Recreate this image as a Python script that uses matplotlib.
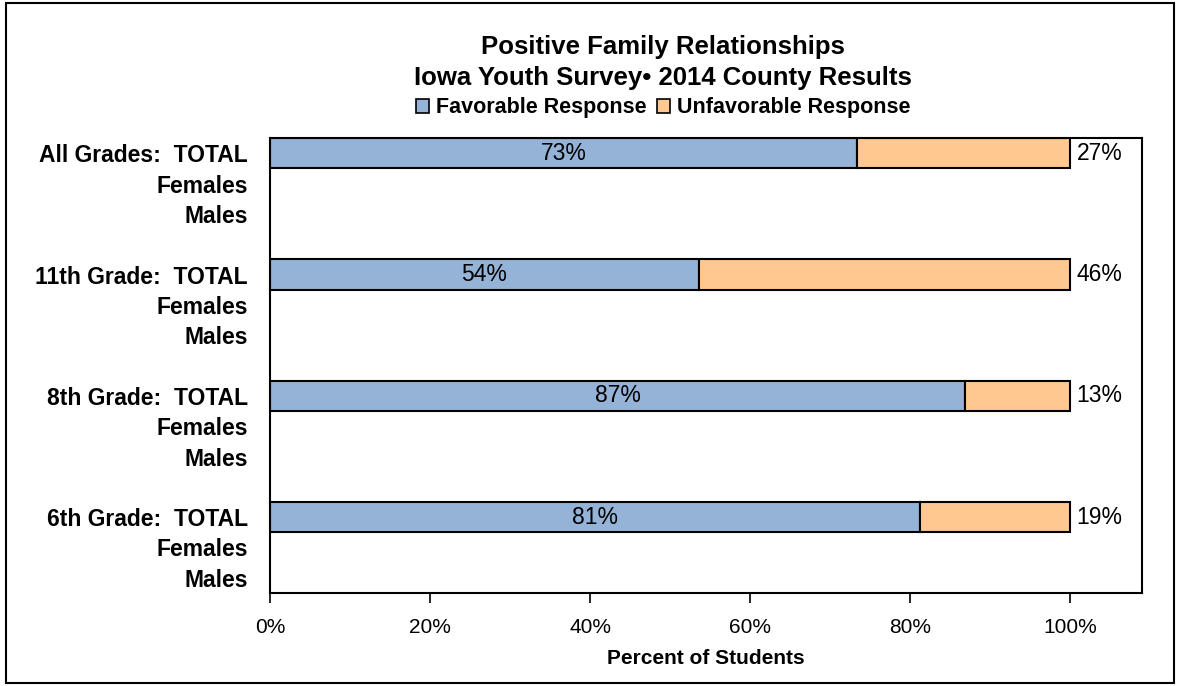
import numpy as np
import matplotlib
matplotlib.use('Agg')
import matplotlib.pyplot as plt
from matplotlib.patches import Patch, Rectangle

# 그래프 데이터
group_labels = ['All Grades:  TOTAL', '11th Grade:  TOTAL', '8th Grade:  TOTAL', '6th Grade:  TOTAL']
sub_labels = ['Females', 'Males']
favorable = [73.4, 53.6, 86.9, 81.2]
unfavorable = [26.6, 46.4, 13.1, 18.8]
fav_text = ['73%', '54%', '87%', '81%']
unfav_text = ['27%', '46%', '13%', '19%']
x_ticks = [0, 20, 40, 60, 80, 100]

COL_FAV = '#95B3D7'
COL_UNFAV = '#FFC891'


def main():
    plt.rcParams['font.family'] = ['Liberation Sans', 'DejaVu Sans']

    # y 위치: 그룹마다 TOTAL, Females, Males, 빈칸
    ylabels = []
    for i, g in enumerate(group_labels):
        ylabels += [g] + sub_labels
        if i < len(group_labels) - 1:
            ylabels.append('')
    ypos = np.arange(len(ylabels))
    total_pos = [i * 4 for i in range(len(group_labels))]

    fig = plt.figure(figsize=(11.78, 6.86), dpi=100)
    ax = fig.add_axes([270 / 1178, 93 / 686, 872 / 1178, 455 / 686])

    ax.barh(total_pos, favorable, height=1.0, color=COL_FAV,
            edgecolor='black', linewidth=1.5)
    ax.barh(total_pos, unfavorable, left=favorable, height=1.0, color=COL_UNFAV,
            edgecolor='black', linewidth=1.5)

    # 값 라벨
    for p, f, u, ft, ut in zip(total_pos, favorable, unfavorable, fav_text, unfav_text):
        ax.text(f / 2, p, ft, ha='center', va='center', fontsize=16.5)
        ax.text(f + u + 0.8, p, ut, ha='left', va='center', fontsize=16.5)

    ax.set_xlim(0, 109)
    ax.set_ylim(len(ylabels) - 0.5, -0.5)
    ax.set_xticks(x_ticks)
    ax.set_xticklabels([str(t) + '%' for t in x_ticks], fontsize=15)
    ax.set_yticks(ypos)
    ax.set_yticklabels(ylabels, fontsize=16.5, fontweight='bold')
    ax.tick_params(axis='y', length=0, pad=16)
    ax.tick_params(axis='x', length=7, width=1.2, direction='out', pad=11)
    ax.set_xlabel('Percent of Students', fontsize=15, fontweight='bold', labelpad=9)
    for s in ax.spines.values():
        s.set_linewidth(1.5)

    fig.text(0.563, 1 - 47 / 686, 'Positive Family Relationships', ha='center', va='center',
             fontsize=18.5, fontweight='bold')
    fig.text(0.563, 1 - 78 / 686, 'Iowa Youth Survey\u2022 2014 County Results', ha='center',
             va='center', fontsize=18.5, fontweight='bold')

    handles = [Patch(facecolor=COL_FAV, edgecolor='black', linewidth=1.2),
               Patch(facecolor=COL_UNFAV, edgecolor='black', linewidth=1.2)]
    fig.legend(handles, ['Favorable Response', 'Unfavorable Response'], loc='center',
               bbox_to_anchor=(0.563, 1 - 108 / 686), ncol=2, frameon=False,
               prop={'size': 15.5, 'weight': 'bold'}, handlelength=0.6, handleheight=0.6,
               handletextpad=0.3, columnspacing=0.5)

    # 바깥 테두리
    fig.patches.append(Rectangle((6 / 1178, 3 / 686), 1168 / 1178, 680 / 686,
                                 transform=fig.transFigure, fill=False,
                                 edgecolor='black', linewidth=1.5))

    fig.savefig('out.png', dpi=100)


if __name__ == '__main__':
    main()
